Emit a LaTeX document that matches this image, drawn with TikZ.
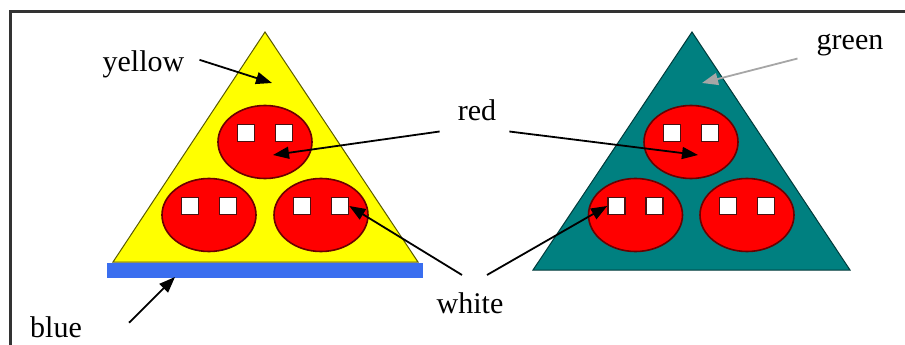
\documentclass[tikz,border=0pt]{standalone}
\usepackage{fontspec}
\setmainfont{Liberation Serif}
\usetikzlibrary{arrows.meta,shapes.geometric,positioning}
\definecolor{pyellow} {HTML}{FFFF00}
\definecolor{pred}    {HTML}{FF0000}
\definecolor{redline} {HTML}{6A0000}
\definecolor{pteal}   {HTML}{008080}
\definecolor{tealline}{HTML}{003A3A}
\definecolor{pblue}   {HTML}{3A6EEF}
\definecolor{oliveln} {HTML}{5A5A00}
\definecolor{winline} {HTML}{4A1010}
\definecolor{frameln} {HTML}{333333}

\begin{document}
\begin{tikzpicture}[x=1pt,y=-1pt,
    lbl/.style={inner sep=0pt,anchor=base,font=\fontsize{30}{36}\selectfont},
    arr/.style={line width=1.8pt,-{Triangle[length=16pt,width=12pt]}},
    blob/.style={ellipse,draw=redline,line width=1.6pt,fill=pred,
                 minimum width=94pt,minimum height=73pt,inner sep=0pt},
    win/.style={draw=winline,line width=1.6pt,fill=white,
                minimum size=17pt,inner sep=0pt}]
  \useasboundingbox (0,0) rectangle (905,345);
  % frame (only top and left edges show)
  \draw[frameln,line width=3pt] (10.5,345) -- (10.5,11.5) -- (905,11.5);

  % left triangle with its base bar
  \draw[fill=pyellow,draw=oliveln,line width=1pt] (265,32) -- (113,262) -- (418,262) -- cycle;
  \fill[pblue] (107,263) rectangle (423,278);
  \coordinate (ytip) at (272,83);
  \coordinate (btip) at (175,277);
  \node[blob] (yt) at (265,142) {};
  \node[blob] (yl) at (209,215) {};
  \node[blob] (yr) at (321,215) {};

  % right triangle
  \draw[fill=pteal,draw=tealline,line width=1pt] (692,32) -- (533,270) -- (850,270) -- cycle;
  \coordinate (gtip) at (702,83);
  \node[blob] (gt) at (691,142) {};
  \node[blob] (gl) at (635.5,215) {};
  \node[blob] (gr) at (747,215) {};

  % two windows in every blob
  \foreach \e in {yt,yl,yr,gt,gl,gr} {
    \node[win] (\e1) at ([shift={(-19,-9)}]\e.center) {};
    \node[win] (\e2) at ([shift={(19,-9)}]\e.center) {};
  }

  % labels
  \node[lbl] (lyellow) at (143.5,72) {yellow};
  \node[lbl] (lred)    at (477,121)  {red};
  \node[lbl] (lwhite)  at (470,313)  {white};
  \node[lbl] (lblue)   at (56,337)   {blue};
  \node[lbl] (lgreen)  at (850,49)   {green};

  % pointers
  \draw[arr] ([shift={(15,-5)}]lyellow.east) -- (ytip);
  \draw[arr] ([shift={(-18,10)}]lred.south west) -- ([shift={(8,13)}]yt.center);
  \draw[arr] ([shift={(13,10)}]lred.south east) -- ([shift={(7,13)}]gt.center);
  \draw[arr] ([shift={(-8,-17)}]lwhite.north) -- (yr2.east);
  \draw[arr] ([shift={(17,-17)}]lwhite.north) -- (gl1.west);
  \draw[arr] ([shift={(47,-4)}]lblue.east) -- (btip);
  \draw[arr,gray!70] ([shift={(-19,14)}]lgreen.west) -- (gtip);
\end{tikzpicture}
\end{document}
